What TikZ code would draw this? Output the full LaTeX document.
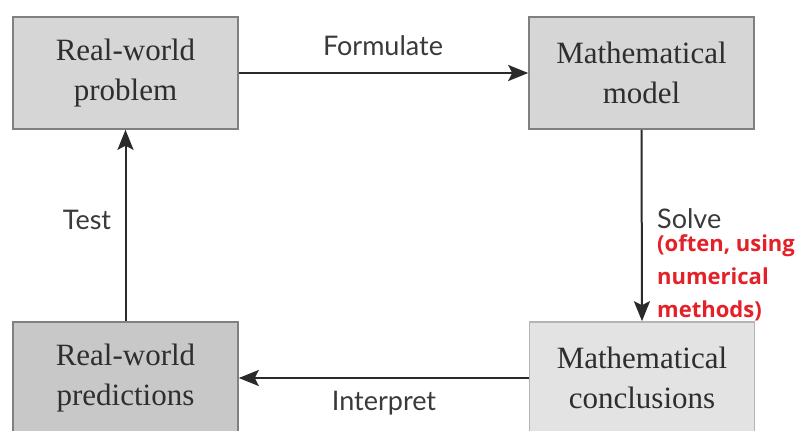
\documentclass[tikz,border=0pt]{standalone}
\usepackage{fontspec}
\setmainfont{Liberation Serif}
\newfontfamily\labelfont{Lato}
\newfontfamily\notefont{Open Sans}
\usetikzlibrary{arrows.meta}
\definecolor{boxborder}{HTML}{808080}
\definecolor{boxborderlight}{HTML}{B4B4B4}
\definecolor{boxtext}{HTML}{2E2E2E}
\definecolor{arrowcol}{HTML}{2A2A2A}
\definecolor{labeltext}{HTML}{3A3A3A}
\definecolor{notered}{RGB}{228,32,40}
\definecolor{fillmid}{HTML}{D6D6D6}
\definecolor{filldark}{HTML}{C8C8C8}
\definecolor{filllight}{HTML}{E3E3E3}
\begin{document}
\begin{tikzpicture}[x=1pt,y=-1pt,
  box/.style={draw=boxborder, line width=1.6pt, minimum width=225pt, minimum height=112pt,
    inner sep=0pt, align=center, font=\fontsize{31}{40}\selectfont, text=boxtext},
  link/.style={draw=arrowcol, line width=2pt, -{Stealth[length=20pt,width=16pt,inset=4pt]}},
  lbl/.style={font=\labelfont\fontsize{27}{30}\selectfont, text=labeltext, inner sep=0pt},
  note/.style={font=\notefont\bfseries\fontsize{22}{33}\selectfont, text=notered, align=left, inner sep=0pt}]
\useasboundingbox (0,0) rectangle (798,431);
\fill[white] (0,0) rectangle (798,431);
\clip (0,0) rectangle (798,431);
\node[box, fill=fillmid] (b1) at (125.5,73) {Real-world\\problem};
\node[box, fill=fillmid] (b2) at (641.5,73) {Mathematical\\model};
\node[box, fill=filldark] (b3) at (125.5,378) {Real-world\\predictions};
\node[box, fill=filllight, draw=boxborderlight] (b4) at (642,378) {Mathematical\\conclusions};
\draw[link] (b1.east) -- (b2.west);
\draw[link] (b2.south) -- (b4.north);
\draw[link] (b4.west) -- (b3.east);
\draw[link] (b3.north) -- (b1.south);
\node[lbl] (formulate) at (383,46) {Formulate};
\node[lbl, anchor=west] (solve) at (657,219) {Solve};
\node[lbl] (test) at (87,220) {Test};
\node[lbl] (interpret) at (384,403) {Interpret};
\node[note, anchor=north west] (note) at (657,234) {(often, using\\numerical\\methods)};
\end{tikzpicture}
\end{document}
